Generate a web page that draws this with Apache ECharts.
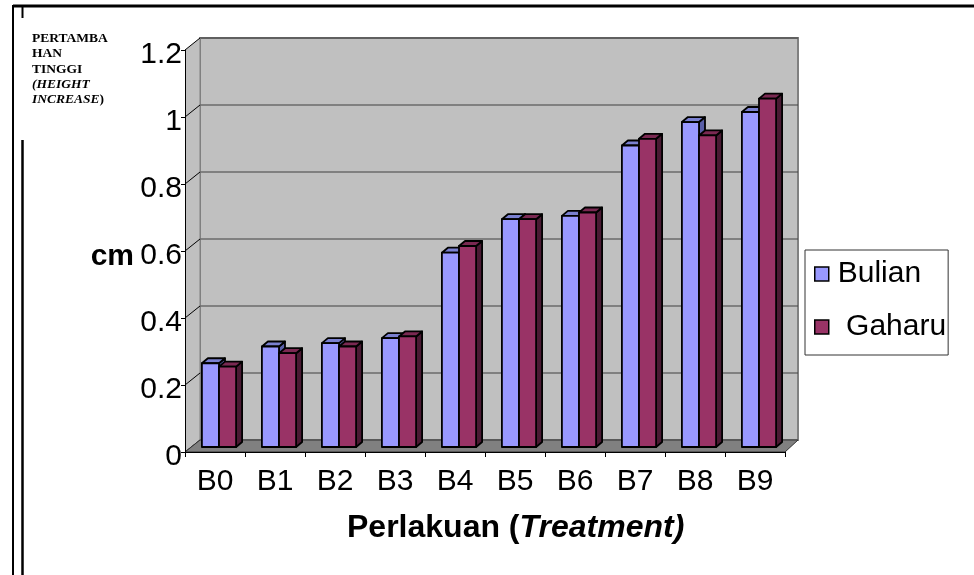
<!DOCTYPE html>
<html><head><meta charset="utf-8">
<script src="https://cdn.jsdelivr.net/npm/echarts@6/dist/echarts.min.js"></script>
<style>html,body{margin:0;padding:0;background:#fff}#c{width:974px;height:575px}</style>
</head><body><div id="c"></div>
<script>
const categories = ['B0','B1','B2','B3','B4','B5','B6','B7','B8','B9'];
const bulian = [0.25, 0.30, 0.31, 0.325, 0.58, 0.68, 0.69, 0.90, 0.97, 1.00];
const gaharu = [0.24, 0.28, 0.30, 0.33, 0.60, 0.68, 0.70, 0.92, 0.93, 1.04];
const yTicks = [0, 0.2, 0.4, 0.6, 0.8, 1, 1.2];

const WALL = [15, -12];
const FRONT = [4, -5];
const DEPTH = [6, -5];
const SANS = 'Liberation Sans, Arial, sans-serif';
const SERIF = 'Liberation Serif, Times New Roman, serif';

function wallsRender(params, api) {
  const cs = params.coordSys;
  const x0 = cs.x, x1 = cs.x + cs.width, yt = cs.y, yb = cs.y + cs.height;
  const dx = WALL[0], dy = WALL[1];
  const ch = [];
  ch.push({type: 'rect', shape: {x: x0 + dx, y: yt + dy, width: cs.width - 2, height: cs.height},
    style: {fill: '#c0c0c0', stroke: '#808080', lineWidth: 2}});
  yTicks.forEach(function (v) {
    if (v === 0) return;
    const y = api.coord([0, v])[1] + dy;
    ch.push({type: 'line', shape: {x1: x0 + dx, y1: y, x2: x1 + dx - 2, y2: y},
      style: {stroke: '#404040', lineWidth: 1}});
  });
  ch.push({type: 'polygon', shape: {points: [[x0, yb], [x0, yt], [x0 + dx, yt + dy], [x0 + dx, yb + dy]]},
    style: {fill: '#c0c0c0'}});
  ch.push({type: 'line', shape: {x1: x0 + dx, y1: yt + dy, x2: x0 + dx, y2: yb + dy},
    style: {stroke: '#808080', lineWidth: 1}});
  yTicks.forEach(function (v) {
    const y = api.coord([0, v])[1];
    ch.push({type: 'line', shape: {x1: x0, y1: y, x2: x0 + dx, y2: y + dy},
      style: {stroke: '#000', lineWidth: 1}});
  });
  ch.push({type: 'polygon', shape: {points: [[x0, yb], [x1, yb], [x1 + dx - 2, yb + dy], [x0 + dx, yb + dy]]},
    style: {fill: '#808080', stroke: '#333', lineWidth: 1}});
  return {type: 'group', children: ch};
}

function barRender(colors, side) {
  return function (params, api) {
    const i = api.value(0), v = api.value(1);
    const c = api.coord([i, 0]);
    const t = api.coord([i, v]);
    const bw = api.size([1, 0])[0] * 0.285;
    let xl = (side < 0 ? c[0] - bw : c[0]) + FRONT[0];
    let xr = xl + bw;
    const yb = c[1] + FRONT[1], ytp = t[1] + FRONT[1];
    const dx = DEPTH[0], dy = DEPTH[1];
    const st = {stroke: '#000', lineWidth: 1.8, lineJoin: 'round'};
    return {type: 'group', children: [
      {type: 'polygon', shape: {points: [[xr, ytp], [xr, yb], [xr + dx, yb + dy], [xr + dx, ytp + dy]]},
        style: Object.assign({fill: colors.side}, st)},
      {type: 'polygon', shape: {points: [[xl, ytp], [xr, ytp], [xr + dx, ytp + dy], [xl + dx, ytp + dy]]},
        style: Object.assign({fill: colors.top}, st)},
      {type: 'rect', shape: {x: xl, y: ytp, width: bw, height: yb - ytp},
        style: Object.assign({fill: colors.front}, st)}
    ]};
  };
}

const cBulian = {front: '#9999ff', top: '#7a80d0', side: '#5a5fa8'};
const cGaharu = {front: '#993366', top: '#7a2952', side: '#4a1a33'};

const chart = echarts.init(document.getElementById('c'), null, {renderer: 'canvas'});
chart.setOption({
  animation: false,
  backgroundColor: '#fff',
  textStyle: {fontFamily: SANS},
  title: [
    {left: 32, top: 31, padding: 0,
      text: '{b|PERTAMBA}\n{b|HAN}\n{b|TINGGI}\n{i|(HEIGHT}\n{i|INCREASE}{b|)}',
      textStyle: {rich: {
        b: {fontFamily: SERIF, fontWeight: 'bold', fontSize: 13.5, lineHeight: 15.3, color: '#000'},
        i: {fontFamily: SERIF, fontWeight: 'bold', fontStyle: 'italic', fontSize: 13.5, lineHeight: 15.3, color: '#000'}
      }}},
    {left: 347, top: 512, padding: 0,
      text: '{b|Perlakuan (}{i|Treatment)}',
      textStyle: {rich: {
        b: {fontFamily: SANS, fontWeight: 'bold', fontSize: 32, color: '#000'},
        i: {fontFamily: SANS, fontWeight: 'bold', fontStyle: 'italic', fontSize: 32, color: '#000'}
      }}}
  ],
  legend: {
    orient: 'vertical', left: 805, top: 250,
    padding: [9, 2, 13, 9], itemGap: 23, itemWidth: 14, itemHeight: 14,
    backgroundColor: '#fff', borderColor: '#333', borderWidth: 1, borderRadius: 0,
    icon: 'rect',
    formatter: function (n) { return n === 'Gaharu' ? ' Gaharu' : n; },
    textStyle: {fontFamily: SANS, fontSize: 30, color: '#000', padding: [0, 0, 0, 4]},
    data: [
      {name: 'Bulian', itemStyle: {color: cBulian.front, borderColor: '#000', borderWidth: 1.5}},
      {name: 'Gaharu', itemStyle: {color: cGaharu.front, borderColor: '#000', borderWidth: 1.5}}
    ]
  },
  grid: {left: 185, top: 50, width: 600, height: 402, containLabel: false},
  xAxis: {
    type: 'category', data: categories, z: 10,
    axisLine: {show: true, lineStyle: {color: '#000', width: 1}},
    axisTick: {show: true, length: 5, lineStyle: {color: '#000'}},
    axisLabel: {fontSize: 30, color: '#000', margin: 15, fontFamily: SANS}
  },
  yAxis: {
    type: 'value', min: 0, max: 1.2, interval: 0.2, z: 10,
    name: 'cm', nameLocation: 'middle', nameRotate: 0, nameGap: 51, nameMoveOverlap: false,
    nameTextStyle: {fontSize: 30, fontWeight: 'bold', color: '#000', fontFamily: SANS, verticalAlign: 'top', lineHeight: 12},
    axisLine: {show: true, lineStyle: {color: '#000', width: 1}},
    axisTick: {show: true, length: 4, lineStyle: {color: '#000'}},
    axisLabel: {fontSize: 30, color: '#000', margin: 3, fontFamily: SANS, verticalAlign: 'top', lineHeight: 10},
    splitLine: {show: false}
  },
  series: [
    {type: 'custom', name: 'walls', silent: true, z: 1, renderItem: wallsRender, data: [[0, 0]], encode: {x: 0, y: 1}},
    {type: 'custom', name: 'Bulian', z: 3, itemStyle: {color: cBulian.front},
      renderItem: barRender(cBulian, -1), data: bulian.map(function (v, i) { return [i, v]; }), encode: {x: 0, y: 1}},
    {type: 'custom', name: 'Gaharu', z: 3, itemStyle: {color: cGaharu.front},
      renderItem: barRender(cGaharu, 1), data: gaharu.map(function (v, i) { return [i, v]; }), encode: {x: 0, y: 1}}
  ],
  graphic: [
    {type: 'line', shape: {x1: 13, y1: 6, x2: 974, y2: 6}, style: {stroke: '#000', lineWidth: 3}},
    {type: 'line', shape: {x1: 13, y1: 5, x2: 13, y2: 575}, style: {stroke: '#000', lineWidth: 2}},
    {type: 'line', shape: {x1: 22.5, y1: 7, x2: 22.5, y2: 18}, style: {stroke: '#000', lineWidth: 2}},
    {type: 'line', shape: {x1: 22.5, y1: 140, x2: 22.5, y2: 575}, style: {stroke: '#000', lineWidth: 2.5}}
  ]
});
</script></body></html>
